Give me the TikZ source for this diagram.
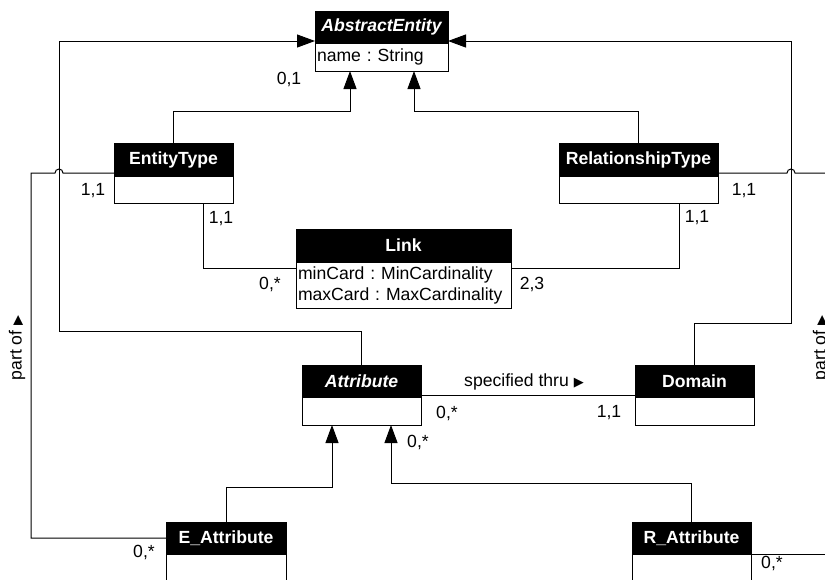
\documentclass[tikz,border=0pt]{standalone}
\usepackage{fontspec}
\setmainfont{Liberation Sans}
\newfontfamily\symf{DejaVu Sans}
\usetikzlibrary{arrows.meta,positioning}
\frenchspacing
\newcommand\umlfont{\fontsize{8.8}{10.5}\selectfont}
\newcommand\tri{{\symf\fontsize{6.5}{7}\selectfont ▶}}
\tikzstyle{head}=[draw, fill=black, text=white, font=\umlfont\bfseries, minimum height=16.5pt, inner sep=0pt, outer sep=0pt]
\tikzstyle{abstract}=[font=\umlfont\bfseries\itshape]
\tikzstyle{body}=[draw, fill=white, align=left, inner xsep=1pt, inner ysep=0pt, outer sep=0pt, minimum height=13.5pt]
\tikzstyle{gen}=[-{Triangle[length=9pt,width=6.5pt]}]
\tikzstyle{card}=[inner sep=0pt]

\begin{document}
\begin{tikzpicture}[x=0.5pt, y=0.5pt, line width=0.5pt, font=\umlfont]
  \useasboundingbox (0,0) rectangle (825,-579);
  \clip (0,0) rectangle (825,-579);

  %% Classes
  \draw (381.5,-27) node[head, abstract, minimum width=66.5pt, minimum height=16pt] (AE) {AbstractEntity};
  \node[body, below=0pt of AE, text width=64.5pt, minimum height=14pt] (AEb) {name : String};

  \draw (173.5,-159.5) node[head, minimum width=59.5pt] (ET) {EntityType};
  \node[body, below=0pt of ET, text width=57.5pt] (ETb) {};

  \draw (638.5,-159.5) node[head, minimum width=79.5pt] (RT) {RelationshipType};
  \node[body, below=0pt of RT, text width=77.5pt] (RTb) {};

  \draw (403.5,-245.5) node[head, minimum width=107.5pt] (L) {Link};
  \node[body, below=0pt of L, text width=105.5pt, minimum height=23pt] (Lb) {minCard : MinCardinality\\maxCard : MaxCardinality};

  \draw (361.5,-381) node[head, abstract, minimum width=59.5pt, minimum height=16pt] (A) {Attribute};
  \node[body, below=0pt of A, text width=57.5pt, minimum height=14pt] (Ab) {};

  \draw (694.5,-381) node[head, minimum width=59.5pt, minimum height=16pt] (D) {Domain};
  \node[body, below=0pt of D, text width=57.5pt, minimum height=14pt] (Db) {};

  \draw (226,-538) node[head, minimum width=60pt, minimum height=16pt] (EA) {E\_Attribute};
  \node[body, below=0pt of EA, text width=58pt, minimum height=14pt] (EAb) {};

  \draw (691.5,-538) node[head, minimum width=59.5pt, minimum height=16pt] (RA) {R\_Attribute};
  \node[body, below=0pt of RA, text width=57.5pt, minimum height=14pt] (RAb) {};

  %% Bend points
  \coordinate (g1) at (59,-331);
  \coordinate (g2) at (350,-111);
  \coordinate (g3) at (414,-111);
  \coordinate (g4) at (791,-323);
  \coordinate (g5) at (332,-487);
  \coordinate (g6) at (391,-483);
  \coordinate (l1) at (203,-268);
  \coordinate (l2) at (679,-268);
  \coordinate (r1) at (835,-173);
  \coordinate (r2) at (835,-554);

  %% Generalizations
  \draw[gen] (A.north) |- (g1) |- ([yshift=1pt]AE.south west);
  \draw[gen] (D.north) |- (g4) |- ([yshift=1pt]AE.south east);
  \draw[gen] (ET.north) |- (g2) -- (AEb.south -| g2);
  \draw[gen] (RT.north) |- (g3) -- (AEb.south -| g3);
  \draw[gen] (EA.north) |- (g5) -- (Ab.south -| g5);
  \draw[gen] (RA.north) |- (g6) -- (Ab.south -| g6);

  %% Associations
  \draw (ETb.south -| l1) -- (l1) -- (Lb.west |- l1);
  \draw (RTb.south -| l2) -- (l2) -- (Lb.east |- l2);
  \draw ([yshift=1pt]A.south east) -- ([yshift=1pt]D.south west);
  \draw ([yshift=1.5pt]ET.south west) -- ++(-51,0) arc[start angle=0, end angle=180, radius=2pt] -- ++(-24,0) |- (EA.west);
  \draw ([yshift=1.5pt]RT.south east) -- ++(69,0) arc[start angle=180, end angle=0, radius=2pt] -- (r1);
  \draw (RA.south east) -- (r2);

  %% Cardinalities
  \draw (289,-79) node[card] {0,1};
  \draw (93,-191) node[card] {1,1};
  \draw (221,-219) node[card] {1,1};
  \draw (270,-284) node[card] {0,*};
  \draw (532,-284) node[card] {2,3};
  \draw (697,-218) node[card] {1,1};
  \draw (744,-191) node[card] {1,1};
  \draw (447,-413) node[card] {0,*};
  \draw (609,-413) node[card] {1,1};
  \draw (418,-442) node[card] {0,*};
  \draw (144,-552) node[card] {0,*};
  \draw (772,-563) node[card] {0,*};

  %% Role names
  \draw (524,-382) node[card] (st) {specified thru \tri};
  \draw (17,-348) node[card, rotate=90] (po1) {part of \tri};
  \draw (821,-348) node[card, rotate=90] (po2) {part of \tri};
\end{tikzpicture}
\end{document}
